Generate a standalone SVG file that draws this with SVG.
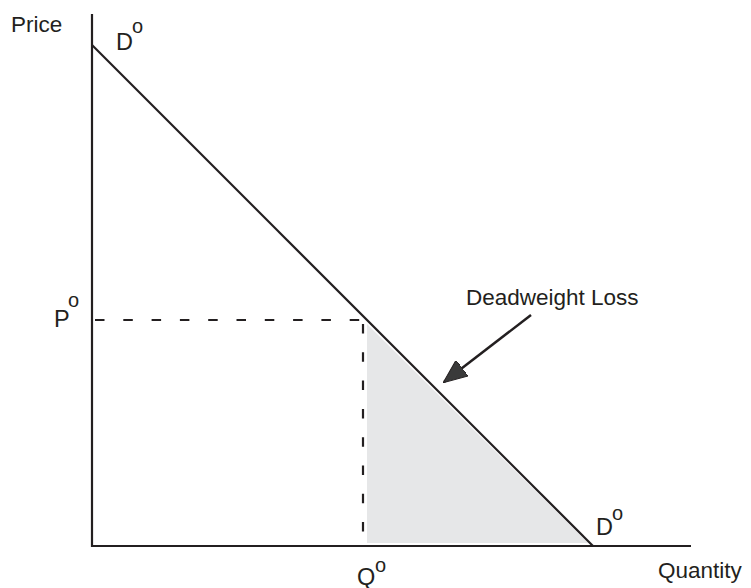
<svg xmlns="http://www.w3.org/2000/svg" width="751" height="588" viewBox="0 0 751 588">
<style>
text{font-family:"Liberation Sans",Arial,sans-serif;fill:#231f20;font-size:22.5px}
.big{font-size:23.5px}
.sup{font-size:20px}
.ax{stroke:#231f20;stroke-width:2.2;fill:none}
.dash{stroke:#231f20;stroke-width:2.2;stroke-dasharray:9.5,18.8;fill:none}
</style>
<defs>
<marker id="ah2" viewBox="0 0 24 20" refX="23" refY="10" markerWidth="24" markerHeight="20" orient="auto" markerUnits="userSpaceOnUse">
<path d="M0,0 L24,10 L0,20 Z" fill="#3a3a3a" stroke="#231f20" stroke-width="1"/>
</marker>
</defs>
<g id="dwl"><polygon points="367,324 367,543 588,543" fill="#e6e7e8"/></g>
<g id="connectors">
<line class="dash" x1="95" y1="320" x2="362" y2="320"/>
<line class="dash" x1="363" y1="324" x2="363" y2="546"/>
<line class="ax" x1="92" y1="14" x2="92" y2="547"/>
<line class="ax" x1="91" y1="546" x2="691" y2="546"/>
<line class="ax" x1="92" y1="45" x2="593" y2="546"/>
<line stroke="#231f20" stroke-width="2.5" x1="531" y1="315" x2="444" y2="382" marker-end="url(#ah2)"/>
</g>
<g id="labels">
<text x="11" y="32">Price</text>
<text class="big" x="116" y="50">D</text><text class="sup" x="132" y="33">o</text>
<text class="big" x="54" y="327">P</text><text class="sup" x="68" y="307">o</text>
<text x="466" y="305">Deadweight Loss</text>
<text class="big" x="357" y="585">Q</text><text class="sup" x="375" y="572">o</text>
<text class="big" x="596" y="535">D</text><text class="sup" x="612" y="520">o</text>
<text x="658" y="578">Quantity</text>
</g>
</svg>
